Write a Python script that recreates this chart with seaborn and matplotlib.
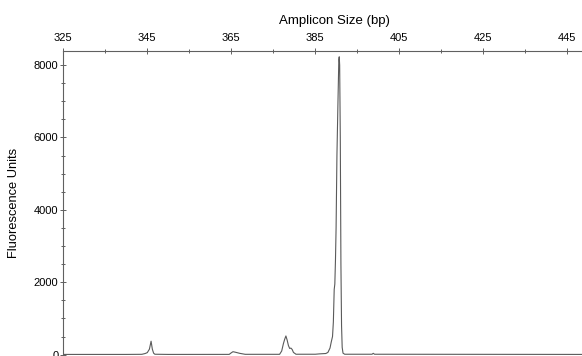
import matplotlib
matplotlib.use("Agg")
import matplotlib.pyplot as plt
import seaborn as sns
import pandas as pd
from matplotlib.ticker import MultipleLocator

# electropherogram trace
size_bp = [325.0, 340.0, 343.7, 344.5, 345.0, 345.5, 345.9, 346.2, 346.5, 346.8,
           350.0, 364.5, 365.0, 365.4, 366.0, 367.0, 368.3,
           376.5, 377.0, 377.4, 377.7, 378.0, 378.3, 378.6, 378.9, 379.2, 379.5, 379.8, 380.4,
           385.0, 386.0, 387.5, 388.0, 388.5, 388.8, 389.1, 389.3, 389.5, 389.65, 389.8,
           389.95, 390.15, 390.4, 390.6, 390.7, 390.8, 390.95, 391.1, 391.25, 391.4, 391.6,
           392.0, 398.5, 398.8, 399.1, 448.5]
fluor = [5, 5, 8, 30, 55, 150, 370, 150, 40, 10,
         5, 6, 50, 80, 65, 35, 8,
         8, 100, 300, 420, 515, 400, 250, 170, 180, 140, 60, 10,
         10, 20, 30, 60, 180, 350, 500, 900, 1800, 1950, 2600,
         3500, 5500, 7000, 8150, 8230, 8000, 6000, 2500, 800, 200, 40,
         10, 10, 35, 10, 5]

df = pd.DataFrame({"size": size_bp, "fu": fluor})

sns.set_style("ticks")
plt.rcParams["font.family"] = ["Liberation Sans", "DejaVu Sans"]

fig = plt.figure(figsize=(5.82, 3.56), dpi=100)
ax = fig.add_axes([63.3 / 582, 1.4 / 356, 1 - 63.3 / 582, (354.6 - 51) / 356])

sns.lineplot(data=df, x="size", y="fu", ax=ax, color="#5a5a5a", linewidth=0.8,
             estimator=None, sort=False)

ax.set_xlim(325, 448.5)
ax.set_ylim(0, 8390)
ax.xaxis.tick_top()
ax.xaxis.set_label_position("top")
ax.xaxis.set_major_locator(MultipleLocator(20, offset=5))
ax.xaxis.set_minor_locator(MultipleLocator(10, offset=5))
ax.yaxis.set_major_locator(MultipleLocator(2000))
ax.yaxis.set_minor_locator(MultipleLocator(500))

for s in ["bottom", "right"]:
    ax.spines[s].set_visible(False)
for s in ["top", "left"]:
    ax.spines[s].set_color("#606060")
    ax.spines[s].set_linewidth(0.8)

ax.tick_params(which="both", direction="inout", color="#606060", width=0.7,
               labelsize=8, pad=1.5, labelcolor="black")
ax.tick_params(axis="x", which="major", pad=4)
ax.tick_params(which="major", length=4)
ax.tick_params(which="minor", length=3)

ax.set_xlabel("Amplicon Size (bp)", fontsize=9.5, color="black")
ax.xaxis.set_label_coords((334.5 - 63.3) / (582 - 63.3), 1 + 27 / 303.6)
ax.set_ylabel("Fluorescence Units", fontsize=9.3, color="black")
ax.yaxis.set_label_coords(-(63.3 - 20) / 518.7, 0.5)

fig.savefig("out.png", dpi=100)
